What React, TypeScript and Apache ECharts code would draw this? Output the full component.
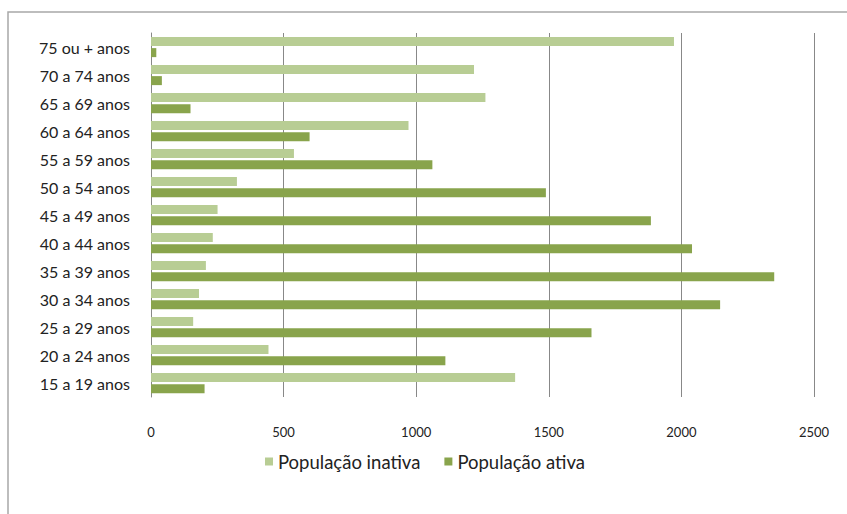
import React, { useEffect, useRef } from "react";
import * as echarts from "echarts";

const categories = [
  "15 a 19 anos",
  "20 a 24 anos",
  "25 a 29 anos",
  "30 a 34 anos",
  "35 a 39 anos",
  "40 a 44 anos",
  "45 a 49 anos",
  "50 a 54 anos",
  "55 a 59 anos",
  "60 a 64 anos",
  "65 a 69 anos",
  "70 a 74 anos",
  "75 ou + anos",
];
const inativa = [1373, 443, 159, 181, 207, 233, 251, 324, 539, 971, 1261, 1218, 1972];
const ativa = [202, 1110, 1661, 2146, 2350, 2040, 1885, 1489, 1061, 598, 149, 41, 20];
const xTicks = [0, 500, 1000, 1500, 2000, 2500];

const LIGHT = "#b8cd94";
const DARK = "#89a44c";
const FONT = "Lato";

export default function App() {
  const ref = useRef<HTMLDivElement>(null);
  useEffect(() => {
    if (!ref.current) return;
    const chart = echarts.init(ref.current, null, { renderer: "svg" });
    chart.setOption({
      animation: false,
      backgroundColor: "#ffffff",
      textStyle: { fontFamily: FONT },
      graphic: [
        {
          type: "rect",
          shape: { x: 8, y: 12, width: 860, height: 520 },
          style: { fill: "none", stroke: "#a8a8a8", lineWidth: 1.5 },
          silent: true,
        },
      ],
      grid: { left: 151, top: 33, right: 33, bottom: 117, containLabel: false },
      legend: {
        left: 260,
        top: 447,
        itemWidth: 8,
        itemHeight: 8,
        itemGap: 24,
        icon: "rect",
        data: ["População inativa", "População ativa"],
        textStyle: { fontSize: 18.5, color: "#222", fontFamily: FONT },
      },
      xAxis: {
        type: "value",
        min: xTicks[0],
        max: xTicks[xTicks.length - 1],
        interval: 500,
        axisLine: { show: false },
        axisTick: { show: false },
        splitLine: { show: true, lineStyle: { color: "#888888", width: 1 } },
        axisLabel: {
          margin: 28,
          fontSize: 13,
          color: "#222",
          fontFamily: FONT,
          formatter: (v: number) => String(v),
        },
      },
      yAxis: {
        type: "category",
        data: categories,
        axisLine: { show: true, lineStyle: { color: "#888888", width: 1 } },
        axisTick: { show: false },
        splitLine: { show: false },
        axisLabel: { margin: 21, fontSize: 16, color: "#222", fontFamily: FONT },
      },
      series: [
        {
          name: "População inativa",
          type: "bar",
          data: inativa,
          barWidth: 9,
          barGap: "25%",
          itemStyle: { color: LIGHT },
        },
        {
          name: "População ativa",
          type: "bar",
          data: ativa,
          barWidth: 9,
          barGap: "25%",
          itemStyle: { color: DARK },
        },
      ],
    });
    return () => chart.dispose();
  }, []);
  return (
    <div
      ref={ref}
      style={{ position: "fixed", left: 0, top: 0, width: 847, height: 514 }}
    />
  );
}
